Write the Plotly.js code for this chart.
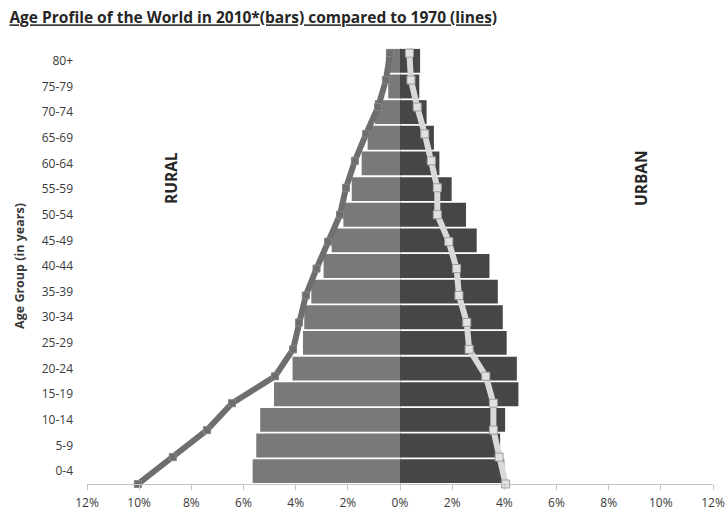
<!DOCTYPE html>
<html>
<head>
<meta charset="utf-8">
<script src="https://cdn.plot.ly/plotly-3.0.1.min.js"></script>
<style>html,body{margin:0;padding:0;background:#fff;}#chart{width:725px;height:512px;}</style>
</head>
<body>
<div id="chart"></div>
<script>
// Age groups, youngest first
const ageGroups = ["0-4","5-9","10-14","15-19","20-24","25-29","30-34","35-39","40-44","45-49","50-54","55-59","60-64","65-69","70-74","75-79","80+"];
// 2010 bars (percent of world population)
const rural2010 = [5.65, 5.51, 5.36, 4.83, 4.12, 3.72, 3.67, 3.40, 2.93, 2.62, 2.17, 1.85, 1.47, 1.24, 0.96, 0.45, 0.54];
const urban2010 = [4.00, 3.84, 4.03, 4.54, 4.48, 4.09, 3.94, 3.75, 3.43, 2.94, 2.53, 1.98, 1.51, 1.30, 1.02, 0.74, 0.77];
// 1970 lines
const rural1970 = [10.05, 8.71, 7.40, 6.44, 4.79, 4.10, 3.87, 3.61, 3.20, 2.76, 2.30, 2.07, 1.73, 1.30, 0.84, 0.54, 0.38];
const urban1970 = [4.05, 3.80, 3.58, 3.58, 3.29, 2.65, 2.56, 2.26, 2.17, 1.87, 1.43, 1.43, 1.20, 0.95, 0.66, 0.42, 0.36];
// x axis ticks
const xTickVals = [-12,-10,-8,-6,-4,-2,0,2,4,6,8,10,12];
const xTickText = ["12%","10%","8%","6%","4%","2%","0%","2%","4%","6%","8%","10%","12%"];

const FONT = "Open Sans, Liberation Sans, sans-serif";
const idx = ageGroups.map((_, i) => i);

const traces = [
  {
    type: "bar", orientation: "h", name: "Rural 2010",
    y: ageGroups, x: rural2010.map(v => -v),
    marker: {color: "#79797c", line: {width: 0}},
    hoverinfo: "skip"
  },
  {
    type: "bar", orientation: "h", name: "Urban 2010",
    y: ageGroups, x: urban2010,
    marker: {color: "#464648", line: {width: 0}},
    hoverinfo: "skip"
  },
  {
    type: "scatter", mode: "lines+markers", name: "Rural 1970",
    y: idx, x: rural1970.map(v => -v), yaxis: "y2",
    line: {color: "#6e6e70", width: 6},
    marker: {symbol: "square", size: 7, color: "#6e6e70", line: {color: "#858585", width: 1}},
    cliponaxis: false, hoverinfo: "skip"
  },
  {
    type: "scatter", mode: "lines+markers", name: "Urban 1970",
    y: idx, x: urban1970, yaxis: "y2",
    line: {color: "#d9d9d9", width: 6},
    marker: {symbol: "square", size: 8, color: "#e2e2e2", line: {color: "#9e9e9e", width: 1}},
    cliponaxis: false, hoverinfo: "skip"
  }
];

const layout = {
  width: 725, height: 512,
  margin: {l: 87, r: 12, t: 48, b: 28, pad: 0},
  paper_bgcolor: "#ffffff", plot_bgcolor: "#ffffff",
  showlegend: false,
  barmode: "relative",
  bargap: 0.07,
  font: {family: FONT, color: "#3a3a3a", size: 12},
  title: {
    text: "<b><span style=\"text-decoration:underline\">Age Profile of the World in 2010*(bars) compared to 1970 (lines)</span></b>",
    x: 0.013, xanchor: "left", y: 0.965, yanchor: "middle",
    font: {family: FONT, size: 15.5, color: "#262626"}
  },
  xaxis: {
    range: [-12, 12], tickvals: xTickVals, ticktext: xTickText,
    showgrid: false, zeroline: true, zerolinecolor: "#cfcfcf", zerolinewidth: 1,
    showline: true, linecolor: "#c4c4c4", linewidth: 1,
    ticks: "outside", ticklen: 5, tickcolor: "#c4c4c4",
    ticklabelstandoff: 3,
    tickfont: {family: FONT, size: 12, color: "#3a3a3a"},
    fixedrange: true
  },
  yaxis: {
    type: "category", categoryorder: "array", categoryarray: ageGroups,
    range: [-0.5, 16.5],
    showgrid: false, zeroline: false, showline: false, ticks: "",
    ticklabelstandoff: 13,
    tickfont: {family: FONT, size: 12, color: "#3a3a3a"},
    title: {text: "<b>Age Group (in years)</b>", font: {family: FONT, size: 12.5, color: "#3a3a3a"}, standoff: 14},
    fixedrange: true
  },
  yaxis2: {
    overlaying: "y", range: [0, 16.19],
    showgrid: false, zeroline: false, showline: false, showticklabels: false, ticks: "",
    fixedrange: true
  },
  annotations: [
    {text: "<b>RURAL</b>", xref: "paper", yref: "paper", x: (171 - 87) / 626, y: (484 - 178) / 436,
     textangle: -90, showarrow: false, xanchor: "center", yanchor: "middle",
     font: {family: FONT, size: 15.5, color: "#262626"}},
    {text: "<b>URBAN</b>", xref: "paper", yref: "paper", x: (641 - 87) / 626, y: (484 - 178) / 436,
     textangle: -90, showarrow: false, xanchor: "center", yanchor: "middle",
     font: {family: FONT, size: 15.5, color: "#262626"}}
  ]
};

Plotly.newPlot("chart", traces, layout, {displayModeBar: false, staticPlot: true});
</script>
</body>
</html>
